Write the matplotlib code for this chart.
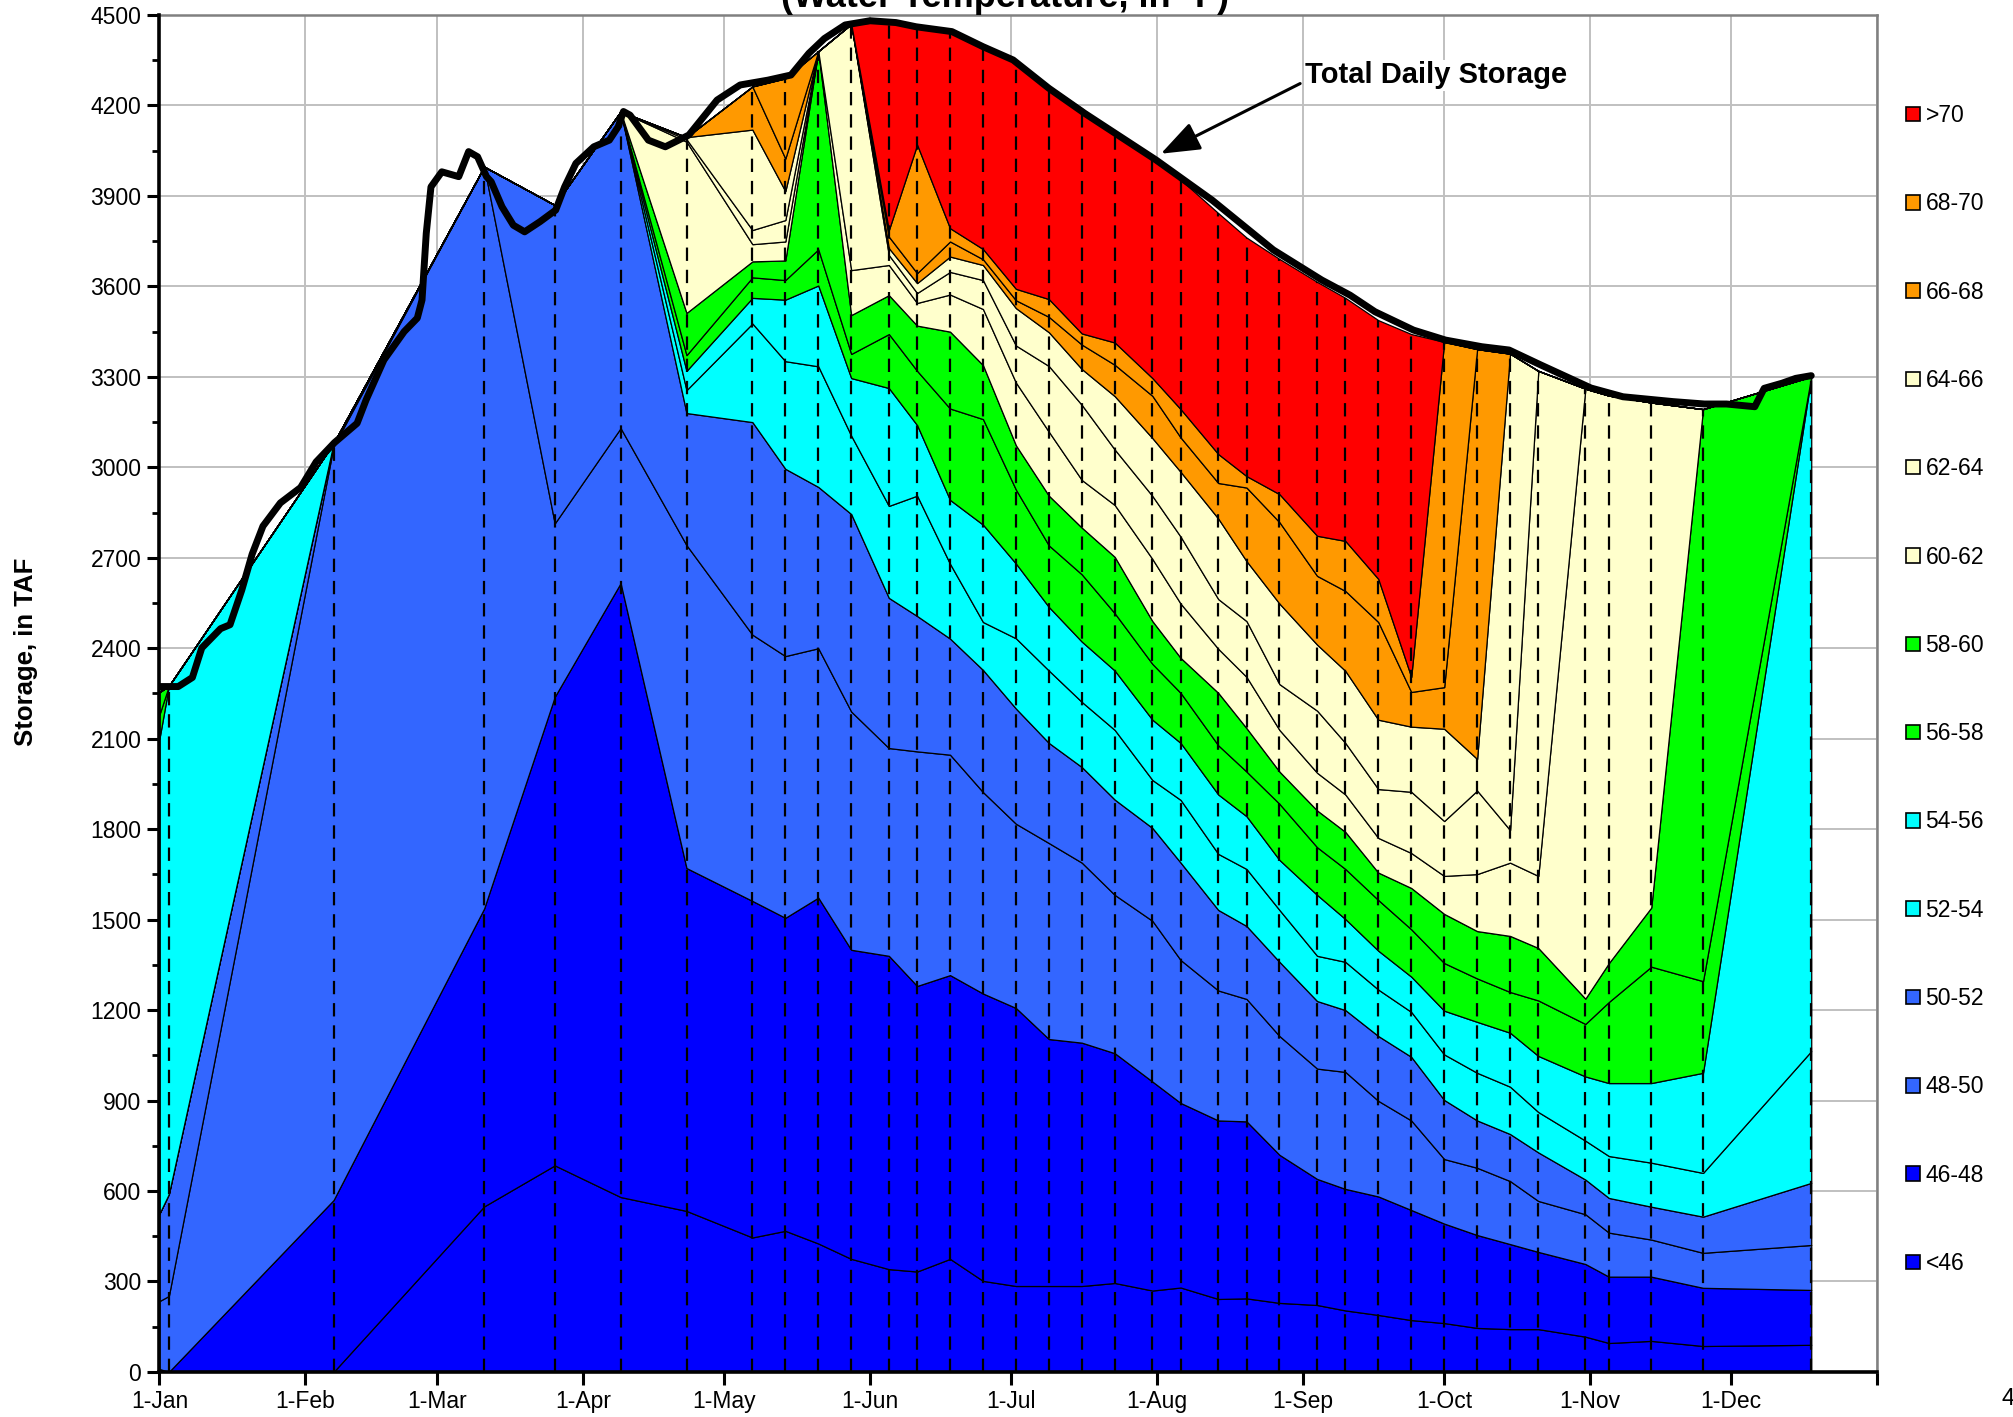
import numpy as np
import matplotlib.pyplot as plt
from matplotlib.patches import Patch

plt.rcParams['font.family'] = ['Liberation Sans', 'DejaVu Sans']

# sample dates (day of year, 0 = 1-Jan)
days = [0, 2, 37, 69, 84, 98, 112, 126, 133, 140, 147, 155, 161, 168, 175, 182, 189,
        196, 203, 211, 217, 225, 231, 238, 246, 252, 259, 266, 273, 280, 287, 293,
        303, 308, 317, 328, 351]

# cumulative storage (TAF) at the top of each temperature band
top_lt46 = [0, 0, 0, 549, 685, 580, 534, 446, 468, 426, 375, 341, 333, 375, 302, 285, 285,
            285, 295, 270, 280, 242, 244, 229, 222, 204, 189, 172, 162, 146, 142, 142,
            117, 96, 103, 86, 90]
top_46_48 = [10, 0, 570, 1537, 2239, 2616, 1671, 1562, 1506, 1573, 1400, 1380, 1280, 1316, 1255, 1207, 1104,
             1092, 1057, 963, 892, 834, 831, 720, 640, 607, 582, 537, 492, 454, 424, 398,
             358, 316, 316, 279, 272]
top_48_50 = [235, 252, 3070, 3997, 2814, 3130, 2742, 2445, 2374, 2400, 2190, 2069, 2058, 2047, 1923, 1818, 1754,
             1689, 1582, 1496, 1366, 1265, 1237, 1114, 1006, 995, 899, 834, 706, 677, 633, 567,
             523, 462, 439, 395, 421]
top_50_52 = [525, 590, 3080, 3997, 3870, 4180, 3180, 3150, 2995, 2935, 2845, 2567, 2507, 2432, 2328, 2200, 2086,
             2006, 1898, 1804, 1689, 1532, 1479, 1360, 1230, 1200, 1114, 1045, 902, 834, 789, 728,
             638, 577, 548, 515, 627]
top_52_54 = [525, 590, 3080, 3997, 3870, 4180, 3256, 3477, 3352, 3335, 3105, 2872, 2906, 2680, 2487, 2433, 2326,
             2222, 2129, 1963, 1897, 1718, 1668, 1532, 1380, 1360, 1268, 1194, 1053, 992, 946, 862,
             767, 716, 694, 660, 1064]
top_54_56 = [2100, 2275, 3080, 3997, 3870, 4180, 3320, 3562, 3556, 3603, 3296, 3263, 3140, 2892, 2810, 2681, 2537,
             2422, 2326, 2163, 2086, 1915, 1843, 1698, 1582, 1502, 1397, 1311, 1198, 1161, 1125, 1048,
             980, 958, 958, 992, 3301]
top_56_58 = [2180, 2275, 3080, 3997, 3870, 4180, 3372, 3630, 3621, 3723, 3376, 3442, 3320, 3195, 3160, 2926, 2741,
             2645, 2516, 2348, 2252, 2078, 1991, 1884, 1740, 1668, 1565, 1468, 1356, 1305, 1260, 1232,
             1154, 1227, 1344, 1296, 3301]
top_58_60 = [2255, 2275, 3080, 3997, 3870, 4180, 3512, 3683, 3686, 4380, 3505, 3571, 3470, 3450, 3339, 3073, 2906,
             2800, 2703, 2490, 2368, 2252, 2135, 1991, 1862, 1791, 1656, 1605, 1519, 1462, 1446, 1406,
             1238, 1356, 1540, 3193, 3301]
top_60_62 = [2255, 2275, 3080, 3997, 3870, 4180, 4080, 3740, 3749, 4380, 3654, 3671, 3545, 3573, 3525, 3281, 3118,
             2958, 2875, 2696, 2548, 2398, 2305, 2129, 1987, 1915, 1771, 1721, 1645, 1651, 1689, 1645,
             3261, 3238, 3215, 3193, 3301]
top_62_64 = [2255, 2275, 3080, 3997, 3870, 4180, 4088, 3787, 3820, 4380, 4470, 3704, 3578, 3648, 3621, 3404, 3336,
             3207, 3059, 2905, 2770, 2563, 2490, 2281, 2193, 2086, 1933, 1924, 1827, 1928, 1797, 3320,
             3261, 3238, 3215, 3193, 3301]
top_64_66 = [2255, 2275, 3080, 3997, 3870, 4180, 4095, 4120, 3916, 4380, 4470, 3727, 3611, 3699, 3671, 3528, 3448,
             3326, 3236, 3097, 2985, 2830, 2689, 2548, 2412, 2325, 2163, 2140, 2133, 2033, 3377, 3320,
             3261, 3238, 3215, 3193, 3301]
top_66_68 = [2255, 2275, 3080, 3997, 3870, 4180, 4095, 4263, 4024, 4380, 4470, 3765, 3644, 3749, 3690, 3554, 3499,
             3407, 3340, 3237, 3099, 2948, 2933, 2818, 2640, 2590, 2487, 2255, 2271, 3392, 3377, 3320,
             3261, 3238, 3215, 3193, 3301]
top_68_70 = [2255, 2275, 3080, 3997, 3870, 4180, 4095, 4263, 4290, 4380, 4470, 3787, 4070, 3793, 3724, 3592, 3558,
             3444, 3414, 3296, 3193, 3044, 2971, 2911, 2773, 2756, 2630, 2305, 3416, 3392, 3377, 3320,
             3261, 3238, 3215, 3193, 3301]
top_gt70 = [2255, 2275, 3080, 3997, 3870, 4180, 4095, 4263, 4290, 4380, 4470, 4478, 4465, 4440, 4398, 4342, 4265,
            4191, 4103, 4029, 3954, 3843, 3762, 3691, 3615, 3562, 3488, 3442, 3416, 3392, 3377, 3320,
            3261, 3238, 3215, 3193, 3301]

band_labels = ['<46', '46-48', '48-50', '50-52', '52-54', '54-56', '56-58',
               '58-60', '60-62', '62-64', '64-66', '66-68', '68-70', '>70']
band_tops = [top_lt46, top_46_48, top_48_50, top_50_52, top_52_54, top_54_56, top_56_58,
             top_58_60, top_60_62, top_62_64, top_64_66, top_66_68, top_68_70, top_gt70]
band_colors = ['#0000ff', '#0000ff', '#3366ff', '#3366ff', '#00ffff', '#00ffff', '#00ff00',
               '#00ff00', '#ffffcc', '#ffffcc', '#ffffcc', '#ff9900', '#ff9900', '#ff0000']

# total daily storage (day of year, TAF)
daily_day = [0, 4, 7, 9, 13, 15, 17.5, 19.7, 22, 25.7, 30, 33.3, 37.2, 42, 43.9, 47.7, 52, 54.8, 55.8, 56.7,
             57.7, 60, 63.6, 65.7, 67.6, 69.5, 70.5, 72.8, 75.2, 77.6, 80.9, 84.2, 86.1, 88.5, 92.3, 95.6,
             97.5, 98.6, 100, 103.9, 107.5, 112.5, 118.5, 123.4, 129.3, 134.2, 138, 141.3, 145.7, 151,
             156.5, 160.8, 168.4, 175, 181.4, 189, 196.6, 211.8, 223.7, 236.7, 247, 253, 258.3, 266.5,
             273.3, 281, 286.8, 293.6, 304.2, 311, 321.6, 328.3, 333, 339, 341, 344.8, 347.7, 351]
daily_storage = [2273, 2273, 2303, 2401, 2465, 2478, 2593, 2712, 2805, 2882, 2933, 3018, 3082, 3146, 3223, 3356,
                 3450, 3495, 3555, 3776, 3930, 3980, 3964, 4047, 4030, 3964, 3947, 3864, 3803, 3781, 3815,
                 3853, 3930, 4008, 4063, 4085, 4130, 4180, 4168, 4085, 4063, 4102, 4218, 4268, 4284, 4301,
                 4373, 4422, 4467, 4481, 4475, 4461, 4445, 4395, 4351, 4257, 4174, 4019, 3886, 3721, 3621,
                 3571, 3516, 3455, 3422, 3400, 3389, 3339, 3263, 3234, 3218, 3210, 3210, 3201, 3262, 3279,
                 3295, 3304]

month_days = [0, 31, 59, 90, 120, 151, 181, 212, 243, 273, 304, 334]
month_labels = ['1-Jan', '1-Feb', '1-Mar', '1-Apr', '1-May', '1-Jun', '1-Jul', '1-Aug',
                '1-Sep', '1-Oct', '1-Nov', '1-Dec']

fig = plt.figure(figsize=(20.13, 14.17), dpi=100)
ax = fig.add_axes([0.0792, 0.0318, 0.8533, 0.9576])

lower = np.zeros(len(days))
for top, col in zip(band_tops, band_colors):
    top = np.array(top, dtype=float)
    ax.fill_between(days, lower, top, facecolor=col, edgecolor='black', linewidth=0.9, zorder=2)
    lower = top

# sample dates
ax.vlines(days[1:], 0, top_gt70[1:], colors='black', linestyles=(0, (6, 4)), linewidth=1.6, zorder=3)

ax.plot(daily_day, daily_storage, color='black', linewidth=5, solid_joinstyle='round',
        solid_capstyle='round', zorder=4)

ax.annotate('Total Daily Storage', xy=(212.8, 4040), xytext=(243.5, 4300),
            fontsize=21, fontweight='bold', va='center', ha='left',
            bbox=dict(fc='white', ec='none', pad=1),
            arrowprops=dict(arrowstyle='-|>,head_length=1.2,head_width=0.45', color='black',
                            lw=2.2, mutation_scale=20, shrinkA=3, shrinkB=0, relpos=(0, 0.3)),
            zorder=5)

ax.set_xlim(0, 365)
ax.set_ylim(0, 4500)
ax.set_xticks(month_days + [365])
ax.set_xticklabels(month_labels + [''])
ax.set_yticks(np.arange(0, 4501, 300))
ax.set_yticks(np.arange(150, 4500, 300), minor=True)
ax.tick_params(axis='both', which='major', direction='out', length=9, width=2.2, labelsize=16.5, pad=4)
ax.tick_params(axis='y', which='minor', direction='out', length=5, width=2)
ax.grid(True, which='major', color='#c0c0c0', linewidth=1.4)
ax.set_axisbelow(True)

for s in ['left', 'bottom']:
    ax.spines[s].set_linewidth(2.6)
    ax.spines[s].set_zorder(6)
for s in ['top', 'right']:
    ax.spines[s].set_color('#808080')
    ax.spines[s].set_linewidth(1.8)

fig.text(0.0129, 0.54, 'Storage, in TAF', rotation=90, ha='center', va='center',
         fontsize=18.5, fontweight='bold')
# title sits partly above the page edge, as in the original
fig.text(0.4995, 1 - 7 / 1417, '(Water Temperature, in \u00b0F)', ha='center', va='baseline',
         fontsize=26, fontweight='bold')
fig.text(2001 / 2013, 1 - 1399 / 1417, '4', ha='left', va='center', fontsize=17)

handles = [Patch(facecolor=c, edgecolor='black', linewidth=1.2) for c in band_colors[::-1]]
ax.legend(handles, band_labels[::-1], loc='upper left', bbox_to_anchor=(1906 / 2013, 1 - 104 / 1417),
          bbox_transform=fig.transFigure, frameon=False, fontsize=16.5, labelspacing=2.85,
          handlelength=0.6, handleheight=0.6, handletextpad=0.25, borderpad=0, borderaxespad=0)

fig.savefig('out.png', dpi=100)
